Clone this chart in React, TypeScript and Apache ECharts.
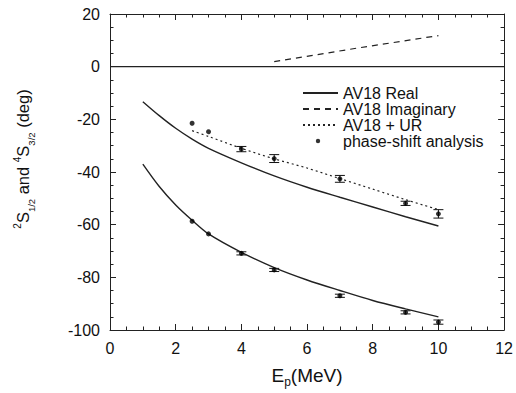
import React, { useEffect, useRef } from "react";
import * as echarts from "echarts";

const FONT = "'Liberation Sans', Arial, Helvetica, sans-serif";
const NARROW = "'Liberation Sans Narrow', 'Arial Narrow', 'Liberation Sans', sans-serif";

// Curves (MeV -> degrees)
const energyCurve = [1, 1.5, 2, 2.5, 3, 4, 5, 6, 7, 8, 9, 10];
const realUpper = [-13.3, -18.6, -23.4, -27.5, -31, -36.5, -41.5, -45.8, -49.6, -53.3, -57, -60.5];
const realLower = [-37, -45.5, -52.5, -58.3, -63.5, -70.5, -76.3, -81, -85, -88.8, -92, -95];
const energyUR = [2.5, 3, 4, 5, 6, 7, 8, 9, 10];
const urUpper = [-24.3, -26.5, -31, -35, -38.5, -42.5, -46.5, -50.5, -54.3];
const energyImag = [5, 7.5, 10];
const imagValues = [1.9, 7.0, 11.8];
const zeroX = [0, 12];
const zeroY = [0, 0];

// Phase-shift analysis points
const energyPSA = [2.5, 3, 4, 5, 7, 9, 10];
const psaUpper = [-21.5, -24.7, -31.3, -34.9, -42.6, -51.9, -55.9];
const psaUpperErr = [0, 0, 1, 1.5, 1.3, 0.8, 1.6];
const psaLower = [-58.7, -63.5, -70.9, -77.2, -87.0, -93.3, -97.0];
const psaLowerErr = [0, 0, 0.6, 0.6, 0.6, 0.6, 0.8];

const xTicks = { min: 0, max: 12, interval: 2 };
const yTicks = { min: -100, max: 20, interval: 20 };

const lineLegendNames = ["AV18 Real", "AV18 Imaginary", "AV18 + UR"];
const pointLegendName = "phase-shift analysis";

const zip = (xs: number[], ys: number[]) => xs.map((x, i) => [x, ys[i]]);
const zip3 = (xs: number[], ys: number[], es: number[]) => xs.map((x, i) => [x, ys[i], es[i]]);

const LINE_COLOR = "#222";
const DOT_ICON =
  "path://M0,0M35,0M35,10M0,10M15,5m-2.2,0a2.2,2.2 0 1,0 4.4,0a2.2,2.2 0 1,0 -4.4,0Z";

function errRender(params: any, api: any) {
  const x = api.value(0);
  const y = api.value(1);
  const e = api.value(2);
  if (!e) return { type: "group", children: [] };
  const top = api.coord([x, y + e]);
  const bot = api.coord([x, y - e]);
  const hw = 5;
  const style = { stroke: "#111", lineWidth: 1 };
  return {
    type: "group",
    children: [
      { type: "line", shape: { x1: top[0], y1: top[1], x2: bot[0], y2: bot[1] }, style },
      { type: "line", shape: { x1: top[0] - hw, y1: top[1], x2: top[0] + hw, y2: top[1] }, style },
      { type: "line", shape: { x1: bot[0] - hw, y1: bot[1], x2: bot[0] + hw, y2: bot[1] }, style },
    ],
  };
}

export default function App() {
  const ref = useRef<HTMLDivElement>(null);
  useEffect(() => {
    if (!ref.current) return;
    const chart = echarts.init(ref.current, null, { renderer: "svg" });
    const axisCommon = {
      type: "value" as const,
      axisLine: { show: true, onZero: false, lineStyle: { color: LINE_COLOR, width: 1 } },
      axisTick: { show: true, inside: true, length: 6, lineStyle: { color: LINE_COLOR, width: 1 } },
      minorTick: { show: true, splitNumber: 4, length: 3.5, lineStyle: { color: LINE_COLOR, width: 1 } },
      splitLine: { show: false },
      minorSplitLine: { show: false },
    };
    const option: any = {
      animation: false,
      backgroundColor: "#fff",
      grid: { left: 110, right: 9, top: 14, bottom: 63, containLabel: false },
      legend: {
        orient: "vertical",
        left: 297,
        top: 80,
        itemWidth: 35,
        itemHeight: 10,
        itemGap: 0,
        textStyle: { fontSize: 16, color: "#111", fontFamily: FONT },
        data: [
          ...lineLegendNames.map((n) => ({ name: n, itemStyle: { opacity: 0 } })),
          { name: pointLegendName, icon: DOT_ICON, itemStyle: { color: "#000" } },
        ],
      },
      xAxis: [
        {
          ...axisCommon,
          ...xTicks,
          position: "bottom",
          axisLabel: { fontSize: 16, color: "#111", margin: 10, fontFamily: FONT },
          name: "{m|E}{s|p}{m|(MeV)}",
          nameLocation: "middle",
          nameGap: 32,
          nameTextStyle: {
            fontFamily: FONT,
            rich: {
              m: { fontSize: 19, color: "#111", fontFamily: FONT, lineHeight: 26, verticalAlign: "middle" },
              s: { fontSize: 12, color: "#111", fontFamily: FONT, lineHeight: 26, verticalAlign: "bottom" },
            },
          },
        },
        {
          ...axisCommon,
          ...xTicks,
          position: "top",
          axisLabel: { show: false },
        },
      ],
      yAxis: [
        {
          ...axisCommon,
          ...yTicks,
          position: "left",
          axisLabel: { fontSize: 16, color: "#111", margin: 10, fontFamily: FONT },
          name: "{p|2}{m|S}{s|1/2}{m| and }{p|4}{m|S}{s|3/2}{m| (deg)}",
          nameLocation: "middle",
          nameRotate: 90,
          nameGap: 74,
          nameTextStyle: {
            fontFamily: NARROW,
            padding: [0, 0, 0, 26],
            rich: {
              m: { fontSize: 16.5, color: "#111", fontFamily: NARROW, lineHeight: 26, verticalAlign: "middle" },
              p: { fontSize: 10, color: "#111", fontFamily: NARROW, lineHeight: 26, verticalAlign: "top", padding: [2, 0, 0, 0] },
              s: { fontSize: 9.5, color: "#111", fontFamily: NARROW, lineHeight: 26, verticalAlign: "bottom" },
            },
          },
        },
        {
          ...axisCommon,
          ...yTicks,
          position: "right",
          axisLabel: { show: false },
        },
      ],
      series: [
        {
          name: "zero",
          type: "line",
          data: zip(zeroX, zeroY),
          symbol: "none",
          lineStyle: { color: LINE_COLOR, width: 1.2 },
          silent: true,
        },
        {
          name: "AV18 Real",
          type: "line",
          data: zip(energyCurve, realUpper),
          symbol: "none",
          smooth: 0.3,
          lineStyle: { color: LINE_COLOR, width: 1.4, type: "solid" },
          itemStyle: { color: LINE_COLOR },
        },
        {
          name: "AV18 Real",
          type: "line",
          data: zip(energyCurve, realLower),
          symbol: "none",
          smooth: 0.3,
          lineStyle: { color: LINE_COLOR, width: 1.4, type: "solid" },
          itemStyle: { color: LINE_COLOR },
        },
        {
          name: "AV18 Imaginary",
          type: "line",
          data: zip(energyImag, imagValues),
          symbol: "none",
          lineStyle: { color: LINE_COLOR, width: 1.2, type: [6, 5] },
          itemStyle: { color: LINE_COLOR },
        },
        {
          name: "AV18 + UR",
          type: "line",
          data: zip(energyUR, urUpper),
          symbol: "none",
          smooth: 0.3,
          lineStyle: { color: LINE_COLOR, width: 1.2, type: [2, 3] },
          itemStyle: { color: LINE_COLOR },
        },
        {
          name: "errUpper",
          type: "custom",
          renderItem: errRender,
          data: zip3(energyPSA, psaUpper, psaUpperErr),
          silent: true,
          z: 3,
        },
        {
          name: "errLower",
          type: "custom",
          renderItem: errRender,
          data: zip3(energyPSA, psaLower, psaLowerErr),
          silent: true,
          z: 3,
        },
        {
          name: pointLegendName,
          type: "scatter",
          data: zip(energyPSA, psaUpper),
          symbol: "circle",
          symbolSize: 5,
          itemStyle: { color: "#000" },
          z: 4,
        },
        {
          name: pointLegendName,
          type: "scatter",
          data: zip(energyPSA, psaLower),
          symbol: "circle",
          symbolSize: 5,
          itemStyle: { color: "#000" },
          z: 4,
        },
      ],
    };
    chart.setOption(option);
    return () => chart.dispose();
  }, []);
  return (
    <div
      ref={ref}
      style={{ position: "fixed", left: 0, top: 0, width: 516, height: 393, background: "#fff" }}
    />
  );
}
